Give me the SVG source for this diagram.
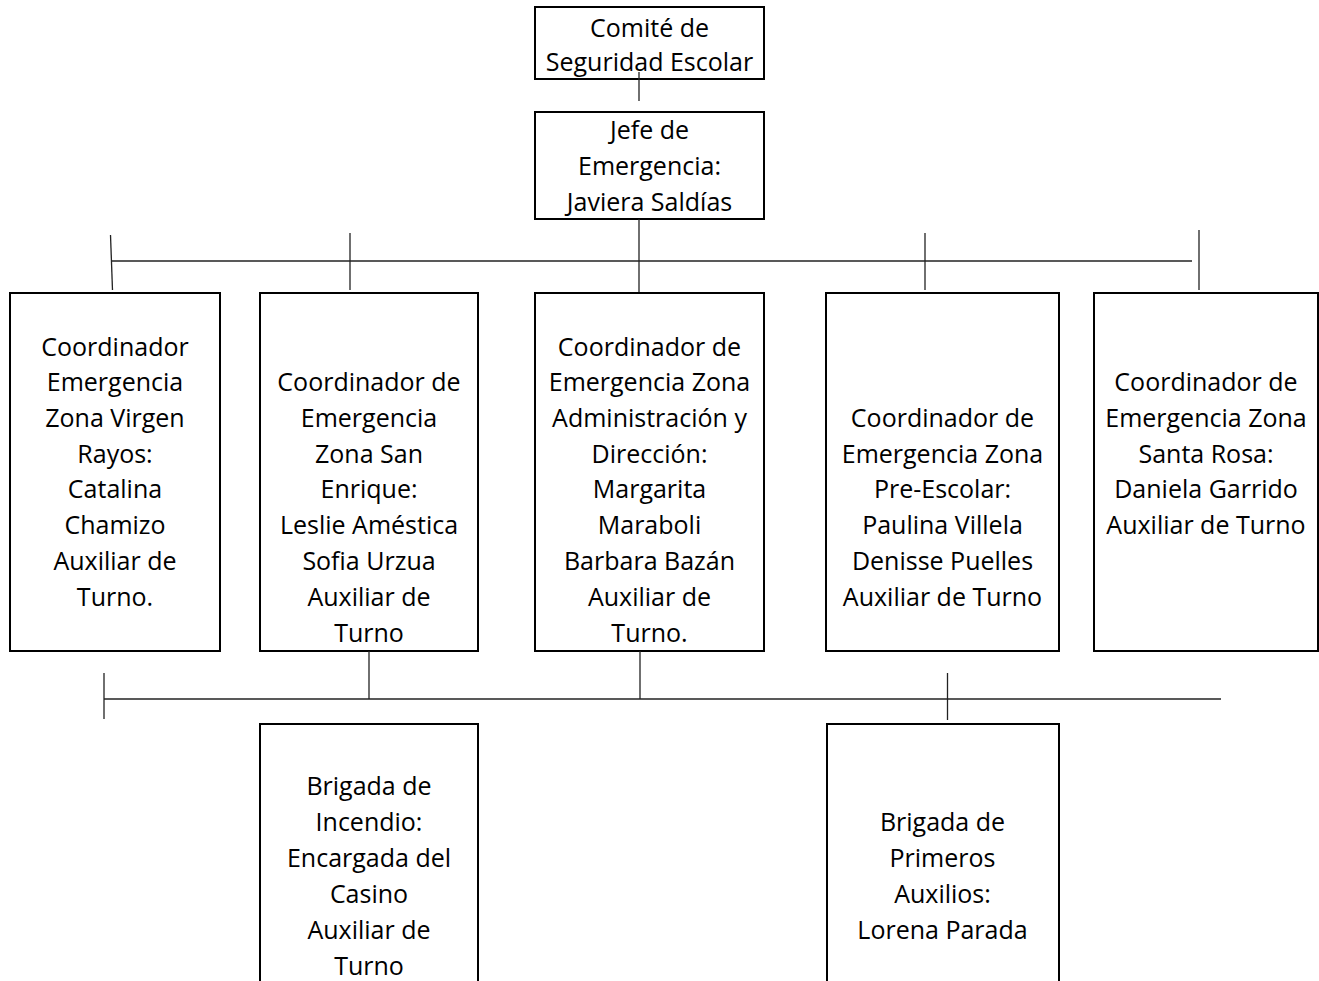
<svg xmlns="http://www.w3.org/2000/svg" width="1319" height="981" viewBox="0 0 1319 981">
<style>
.box{fill:#fff;stroke:#000;stroke-width:2}
.t{font-family:"Open Sans",Lato,"Liberation Sans",sans-serif;font-size:25px;fill:#000;text-anchor:middle}
.c{stroke:#222;stroke-width:1.3;fill:none}
</style>
<rect width="1319" height="981" fill="#fff"/>
<g id="n-comite"><rect class="box" x="535" y="7" width="229" height="72"/>
<text class="t" x="649.5" y="37">Comité de</text><text class="t" x="649.5" y="71">Seguridad Escolar</text></g>
<g id="n-jefe"><rect class="box" x="535" y="112" width="229" height="107"/>
<text class="t" x="649.5" y="139">Jefe de</text><text class="t" x="649.5" y="175">Emergencia:</text><text class="t" x="649.5" y="211">Javiera Saldías</text></g>
<g id="n-c1"><rect class="box" x="10" y="293" width="210" height="358"/>
<text class="t" x="115" y="356">Coordinador</text><text class="t" x="115" y="391">Emergencia</text><text class="t" x="115" y="427">Zona Virgen</text><text class="t" x="115" y="463">Rayos:</text><text class="t" x="115" y="498">Catalina</text><text class="t" x="115" y="534">Chamizo</text><text class="t" x="115" y="570">Auxiliar de</text><text class="t" x="115" y="606">Turno.</text></g>
<g id="n-c2"><rect class="box" x="260" y="293" width="218" height="358"/>
<text class="t" x="369" y="391">Coordinador de</text><text class="t" x="369" y="427">Emergencia</text><text class="t" x="369" y="463">Zona San</text><text class="t" x="369" y="498">Enrique:</text><text class="t" x="369" y="534">Leslie Améstica</text><text class="t" x="369" y="570">Sofia Urzua</text><text class="t" x="369" y="606">Auxiliar de</text><text class="t" x="369" y="642">Turno</text></g>
<g id="n-c3"><rect class="box" x="535" y="293" width="229" height="358"/>
<text class="t" x="649.5" y="356">Coordinador de</text><text class="t" x="649.5" y="391">Emergencia Zona</text><text class="t" x="649.5" y="427">Administración y</text><text class="t" x="649.5" y="463">Dirección:</text><text class="t" x="649.5" y="498">Margarita</text><text class="t" x="649.5" y="534">Maraboli</text><text class="t" x="649.5" y="570">Barbara Bazán</text><text class="t" x="649.5" y="606">Auxiliar de</text><text class="t" x="649.5" y="642">Turno.</text></g>
<g id="n-c4"><rect class="box" x="826" y="293" width="233" height="358"/>
<text class="t" x="942.5" y="427">Coordinador de</text><text class="t" x="942.5" y="463">Emergencia Zona</text><text class="t" x="942.5" y="498">Pre-Escolar:</text><text class="t" x="942.5" y="534">Paulina Villela</text><text class="t" x="942.5" y="570">Denisse Puelles</text><text class="t" x="942.5" y="606">Auxiliar de Turno</text></g>
<g id="n-c5"><rect class="box" x="1094" y="293" width="224" height="358"/>
<text class="t" x="1206" y="391">Coordinador de</text><text class="t" x="1206" y="427">Emergencia Zona</text><text class="t" x="1206" y="463">Santa Rosa:</text><text class="t" x="1206" y="498">Daniela Garrido</text><text class="t" x="1206" y="534">Auxiliar de Turno</text></g>
<g id="n-b1"><rect class="box" x="260" y="724" width="218" height="270"/>
<text class="t" x="369" y="795">Brigada de</text><text class="t" x="369" y="831">Incendio:</text><text class="t" x="369" y="867">Encargada del</text><text class="t" x="369" y="903">Casino</text><text class="t" x="369" y="939">Auxiliar de</text><text class="t" x="369" y="975">Turno</text></g>
<g id="n-b2"><rect class="box" x="827" y="724" width="232" height="270"/>
<text class="t" x="942.5" y="831">Brigada de</text><text class="t" x="942.5" y="867">Primeros</text><text class="t" x="942.5" y="903">Auxilios:</text><text class="t" x="942.5" y="939">Lorena Parada</text></g>
<g id="connectors">
<line class="c" x1="639" y1="72" x2="639" y2="101"/>
<line class="c" x1="639" y1="219" x2="639" y2="292"/>
<line class="c" x1="112" y1="261" x2="1192" y2="261"/>
<line class="c" x1="110.5" y1="235" x2="112.5" y2="290"/>
<line class="c" x1="350" y1="233" x2="350" y2="290"/>
<line class="c" x1="925" y1="233" x2="925" y2="290"/>
<line class="c" x1="1199" y1="230" x2="1199" y2="290"/>
<line class="c" x1="104" y1="699" x2="1221" y2="699"/>
<line class="c" x1="104" y1="673" x2="104" y2="719"/>
<line class="c" x1="369" y1="651" x2="369" y2="699"/>
<line class="c" x1="640" y1="651" x2="640" y2="699"/>
<line class="c" x1="947.5" y1="673" x2="947.5" y2="720"/>
</g>
</svg>
